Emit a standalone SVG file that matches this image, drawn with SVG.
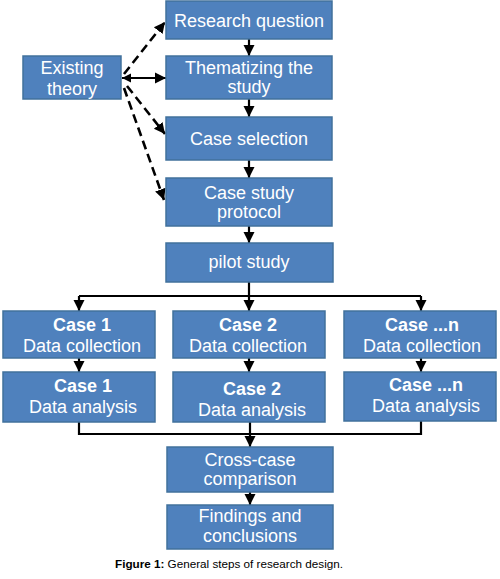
<svg xmlns="http://www.w3.org/2000/svg" width="500" height="579" viewBox="0 0 500 579">
<style>
.box{fill:#4F81BD;stroke:#41719C;stroke-width:1.5}
.t{font-family:"Liberation Sans",Arial,sans-serif;font-size:18px;fill:#fff;text-anchor:middle}
.b{font-weight:bold}
.c{stroke:#000;stroke-width:2.2;fill:none}
.d{stroke:#000;stroke-width:2.6;fill:none;stroke-dasharray:9 5}
.cap{font-family:"Liberation Sans",Arial,sans-serif;font-size:11.7px;fill:#000}
</style>
<defs>
<marker id="ah" viewBox="0 0 10 10" refX="10" refY="5" markerUnits="userSpaceOnUse" markerWidth="11" markerHeight="13" orient="auto">
<path d="M0,0 L10,5 L0,10 z" fill="#000"/>
</marker>
<marker id="ahs" viewBox="0 0 10 10" refX="10" refY="5" markerUnits="userSpaceOnUse" markerWidth="9" markerHeight="10" orient="auto-start-reverse">
<path d="M0,0 L10,5 L0,10 z" fill="#000"/>
</marker>
</defs>
<rect width="500" height="579" fill="#fff"/>
<g id="connectors">
<line class="c" x1="249" y1="39" x2="249" y2="56" marker-end="url(#ah)"/>
<line class="c" x1="249" y1="99" x2="249" y2="117" marker-end="url(#ah)"/>
<line class="c" x1="249" y1="160" x2="249" y2="178" marker-end="url(#ah)"/>
<line class="c" x1="249" y1="226" x2="249" y2="243" marker-end="url(#ah)"/>
<line class="c" x1="122" y1="78" x2="166" y2="78" marker-start="url(#ahs)" marker-end="url(#ah)"/>
<line class="d" x1="124" y1="74" x2="165" y2="22" marker-end="url(#ah)"/>
<line class="d" x1="127" y1="86" x2="165" y2="134" marker-end="url(#ah)"/>
<line class="d" x1="124" y1="88" x2="164" y2="200" marker-end="url(#ah)"/>
<path class="c" d="M249,282 V296 M79,296 H421"/>
<line class="c" x1="79" y1="296" x2="79" y2="311" marker-end="url(#ah)"/>
<line class="c" x1="249" y1="296" x2="249" y2="311" marker-end="url(#ah)"/>
<line class="c" x1="421" y1="296" x2="421" y2="311" marker-end="url(#ah)"/>
<line class="c" x1="79" y1="358" x2="79" y2="372" marker-end="url(#ah)"/>
<line class="c" x1="249" y1="358" x2="249" y2="372" marker-end="url(#ah)"/>
<line class="c" x1="421" y1="358" x2="421" y2="372" marker-end="url(#ah)"/>
<path class="c" d="M79,422 V434 H421 V421"/>
<line class="c" x1="250" y1="422" x2="250" y2="447" marker-end="url(#ah)"/>
<line class="c" x1="250" y1="492" x2="250" y2="505" marker-end="url(#ah)"/>
</g>
<g id="research-question"><rect class="box" x="166" y="1" width="166" height="38"/><text class="t" x="249" y="27">Research question</text></g>
<g id="existing-theory"><rect class="box" x="23" y="56" width="98" height="43"/><text class="t" x="72" y="74">Existing</text><text class="t" x="72" y="95">theory</text></g>
<g id="thematizing"><rect class="box" x="166" y="56" width="166" height="43"/><text class="t" x="249" y="74">Thematizing the</text><text class="t" x="249" y="93">study</text></g>
<g id="case-selection"><rect class="box" x="166" y="117" width="166" height="43"/><text class="t" x="249" y="145">Case selection</text></g>
<g id="case-study-protocol"><rect class="box" x="166" y="178" width="166" height="48"/><text class="t" x="249" y="199">Case study</text><text class="t" x="249" y="218">protocol</text></g>
<g id="pilot-study"><rect class="box" x="166" y="243" width="167" height="39"/><text class="t" x="249" y="268">pilot study</text></g>
<g id="case1-dc"><rect class="box" x="3" y="311" width="152" height="47"/><text class="t b" x="82" y="331">Case 1</text><text class="t" x="82" y="352">Data collection</text></g>
<g id="case2-dc"><rect class="box" x="173" y="311" width="152" height="47"/><text class="t b" x="248" y="331">Case 2</text><text class="t" x="248" y="352">Data collection</text></g>
<g id="casen-dc"><rect class="box" x="344" y="311" width="152" height="47"/><text class="t b" x="422" y="331">Case ...n</text><text class="t" x="422" y="352">Data collection</text></g>
<g id="case1-da"><rect class="box" x="3" y="372" width="152" height="50"/><text class="t b" x="83" y="392">Case 1</text><text class="t" x="83" y="413">Data analysis</text></g>
<g id="case2-da"><rect class="box" x="173" y="372" width="152" height="50"/><text class="t b" x="252" y="395">Case 2</text><text class="t" x="252" y="416">Data analysis</text></g>
<g id="casen-da"><rect class="box" x="344" y="372" width="152" height="49"/><text class="t b" x="426" y="391">Case ...n</text><text class="t" x="426" y="412">Data analysis</text></g>
<g id="cross-case"><rect class="box" x="167" y="447" width="166" height="45"/><text class="t" x="250" y="466">Cross-case</text><text class="t" x="250" y="485">comparison</text></g>
<g id="findings"><rect class="box" x="167" y="505" width="166" height="44"/><text class="t" x="250" y="522">Findings and</text><text class="t" x="250" y="542">conclusions</text></g>
<text class="cap" x="115" y="568"><tspan font-weight="bold">Figure 1:</tspan> General steps of research design.</text>
</svg>
